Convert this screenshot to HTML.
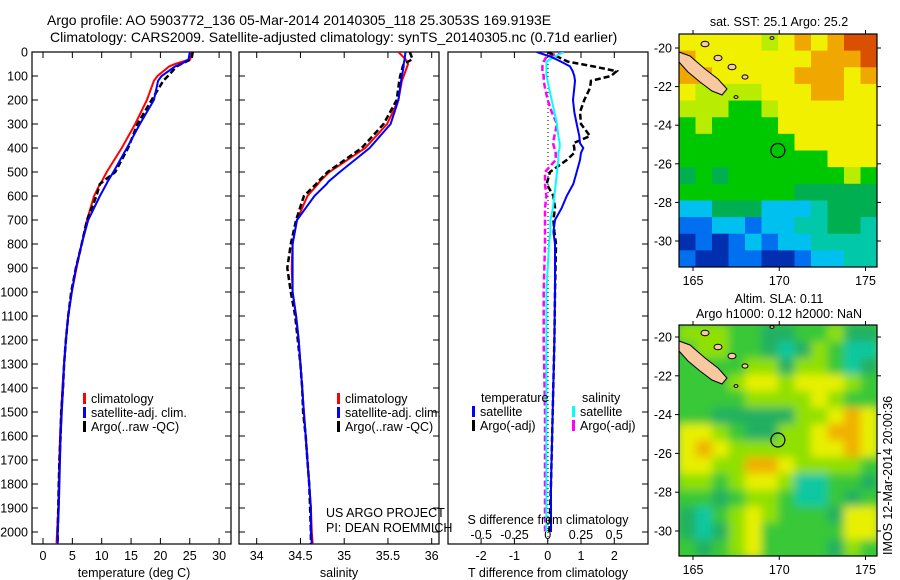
<!DOCTYPE html>
<html><head><meta charset="utf-8">
<style>
html,body{margin:0;padding:0;background:#fff;}
svg{display:block;font-family:"Liberation Sans",sans-serif;}
text{font-size:12.5px;fill:#000;}
</style></head>
<body>
<svg id="fig" width="900" height="580" viewBox="0 0 900 580">
<defs>
<clipPath id="c1"><rect x="32" y="52" width="199" height="492"/></clipPath>
<clipPath id="c2"><rect x="239" y="52" width="200" height="492"/></clipPath>
<clipPath id="c3"><rect x="448" y="52" width="200" height="492"/></clipPath>
<clipPath id="cm1"><rect x="679" y="34" width="198" height="233"/></clipPath>
<clipPath id="cm2"><rect x="679" y="325" width="198" height="231"/></clipPath>
<filter id="bl" x="-5%" y="-5%" width="110%" height="110%"><feGaussianBlur stdDeviation="4.5"/></filter>
</defs>
<text x="47" y="25" style="font-size:14px">Argo profile: AO 5903772_136 05-Mar-2014 20140305_118 25.3053S 169.9193E</text>
<text x="50" y="42" style="font-size:14px">Climatology: CARS2009. Satellite-adjusted climatology: synTS_20140305.nc (0.71d earlier)</text>
<g id="g1"></g>
<g id="g2"></g>
<g id="g3"></g>
<g id="maps"></g>
<text transform="translate(892,555) rotate(-90)" style="font-size:12.5px">IMOS 12-Mar-2014 20:00:36</text>
</svg>
<script>
// ---- data ----
const depthT = [0,30,50,60,100,120,200,300,400,500,540,550,600,700,800,900,1000,1100,1200,1300,1400,1500,1600,1700,1800,1900,2000,2050];
const tempClim = [25.3,25.1,22.5,21.5,19.5,18.9,17.7,15.7,13.4,10.85,10.0,9.7,8.7,7.5,6.6,5.7,4.9,4.3,3.9,3.6,3.3,3.1,2.9,2.8,2.7,2.6,2.4,2.3];
const tempSat  = [25.0,24.8,23.6,22.5,20.2,19.6,18.9,16.5,14.3,12.0,11.0,10.8,9.7,7.7,6.6,5.6,4.9,4.3,3.9,3.6,3.4,3.2,3.0,2.9,2.8,2.7,2.5,2.5];
const tempArgo = [25.5,25.3,23.5,22.8,21.3,20.5,18.5,16.1,14.5,12.3,10.2,9.7,9.1,7.5,6.6,5.6,4.8,4.3,3.9,3.6,3.4,3.1,3.0,2.8,2.7,2.6,2.5,2.5];
const salClim = [35.62,35.70,35.73,35.72,35.68,35.66,35.62,35.49,35.24,34.83,34.72,34.70,34.58,34.46,34.41,34.40,34.41,34.45,34.48,34.50,34.52,34.54,34.56,34.58,34.60,34.62,34.63,34.64];
const salSat  = [35.70,35.69,35.68,35.68,35.66,35.65,35.62,35.53,35.29,34.95,34.82,34.80,34.66,34.46,34.41,34.41,34.41,34.45,34.48,34.50,34.52,34.54,34.56,34.58,34.60,34.62,34.62,34.63];
const salArgo = [35.75,35.78,35.68,35.67,35.64,35.63,35.60,35.45,35.20,34.81,34.70,34.68,34.54,34.45,34.39,34.35,34.39,34.44,34.47,34.50,34.52,34.53,34.56,34.58,34.60,34.61,34.62,34.62];
const depthD = [0,20,40,60,80,100,120,150,200,250,300,350,380,400,420,450,500,550,600,650,700,750,800,1000,1200,1500,1800,2000];
const tDiffSat  = [-0.33,0.1,0.4,0.67,0.75,0.8,0.82,0.8,0.76,0.8,0.87,0.95,0.97,1.07,1.0,0.97,0.87,0.77,0.57,0.42,0.22,0.17,0.22,0.22,0.2,0.15,0.1,0.1];
const tDiffArgo = [0.0,0.3,0.6,1.37,2.07,1.9,1.3,1.27,1.1,0.97,1.0,1.27,0.77,0.8,0.8,0.57,0.07,-0.03,0.17,0.22,0.17,0.2,0.25,0.22,0.2,0.15,0.1,0.05];
const sDiffSat  = [0.12,0.05,-0.01,-0.01,-0.01,-0.01,0.0,0.01,0.03,0.05,0.07,0.08,0.09,0.09,0.08,0.08,0.07,0.06,0.05,0.04,0.02,0.02,0.01,-0.01,-0.01,-0.01,-0.01,-0.01];
const sDiffArgo = [0.12,-0.01,-0.03,-0.04,-0.04,-0.03,-0.03,-0.02,0.0,0.03,0.07,0.05,0.04,0.05,0.06,0.06,-0.02,-0.02,-0.01,-0.02,-0.02,-0.02,-0.02,-0.03,-0.03,-0.02,-0.02,-0.02];
const depthTicks = [0,100,200,300,400,500,600,700,800,900,1000,1100,1200,1300,1400,1500,1600,1700,1800,1900,2000];
const tempTicks = [0,5,10,15,20,25,30];
const salTicks = [34,34.5,35,35.5,36];
const salTickLabels = ["34","34.5","35","35.5","36"];
const tdTicks = [-2,-1,0,1,2];
const sdTicks = [-0.5,-0.25,0,0.25,0.5];
const sdTickLabels = ["-0.5","-0.25","0","0.25","0.5"];
const lonTicks = [165,170,175];
const latTicks = [-20,-22,-24,-26,-28,-30];

// ---- scales ----
const yD = d => 52 + d*0.24;
const xT = t => 43 + t*5.87;
const xS = s => 256.7 + (s-34)*87.5;
const xTd = t => 547.7 + t*33.3;
const xSd = s => 547.7 + s*133;
const xLon = l => 693 + (l-165)*17.25;
const yLat1 = a => 48 + (-20-a)*19.3;
const yLat2 = a => 337 + (-20-a)*19.4;

const NS="http://www.w3.org/2000/svg";
function mk(tag, attrs, parent){const e=document.createElementNS(NS,tag);for(const k in attrs)e.setAttribute(k,attrs[k]);parent.appendChild(e);return e;}
function txt(s,x,y,anchor,parent){const t=mk('text',{x:x,y:y,'text-anchor':anchor||'start'},parent);t.textContent=s;return t;}
function line(xs,ds,fx,color,w,dash,parent,clip){
  const pts=xs.map((v,i)=>fx(v).toFixed(1)+','+yD(ds[i]).toFixed(1)).join(' ');
  const p=mk('polyline',{points:pts,fill:'none',stroke:color,'stroke-width':w,'clip-path':'url(#'+clip+')'},parent);
  if(dash)p.setAttribute('stroke-dasharray',dash);
  return p;
}
function frame(x0,w,parent){mk('rect',{x:x0,y:52,width:w,height:492,fill:'none',stroke:'#000','stroke-width':1.2},parent);}
function dticks(x0,w,parent,labels){
  depthTicks.forEach(d=>{const y=yD(d);
    mk('line',{x1:x0,y1:y,x2:x0+6,y2:y,stroke:'#000'},parent);
    mk('line',{x1:x0+w-6,y1:y,x2:x0+w,y2:y,stroke:'#000'},parent);
    if(labels){const t=txt(String(d),28,y+4.5,'end',parent);
      
      }
  });
}
function xticks(vals,labs,fx,parent,ylab){
  vals.forEach((v,i)=>{const x=fx(v);
    mk('line',{x1:x,y1:52,x2:x,y2:58,stroke:'#000'},parent);
    mk('line',{x1:x,y1:538,x2:x,y2:544,stroke:'#000'},parent);
    if(ylab){const t=txt(labs[i],x,ylab,'middle',parent);
      
      }
  });
}
function legendItem(color,label,x,y,parent){
  mk('rect',{x:x,y:y-10,width:3,height:11,fill:color},parent);
  const t=txt(label,x+8,y,'start',parent);
  
  
}

// ---- panel 1 ----
const g1=document.getElementById('g1');
frame(32,199,g1); dticks(32,199,g1,true);
xticks(tempTicks,tempTicks.map(String),xT,g1,560);
let l;
l=line(tempClim,depthT,xT,'#ff0000',2,null,g1,'c1');


l=line(tempArgo,depthT,xT,'#000',2.5,'6,3',g1,'c1');


l=line(tempSat,depthT,xT,'#0000ff',2,null,g1,'c1');


legendItem('#ff0000','climatology',83,403,g1);
legendItem('#0000ff','satellite-adj. clim.',83,417,g1);
legendItem('#000','Argo(..raw -QC)',83,431,g1);
let xl=txt('temperature (deg C)',134,577,'middle',g1);



// ---- panel 2 ----
const g2=document.getElementById('g2');
frame(239,200,g2); dticks(239,200,g2,false);
xticks(salTicks,salTickLabels,xS,g2,560);
l=line(salClim,depthT,xS,'#ff0000',2,null,g2,'c2');


l=line(salArgo,depthT,xS,'#000',2.5,'6,3',g2,'c2');


l=line(salSat,depthT,xS,'#0000ff',2,null,g2,'c2');


legendItem('#ff0000','climatology',337,403,g2);
legendItem('#0000ff','satellite-adj. clim.',337,417,g2);
legendItem('#000','Argo(..raw -QC)',337,431,g2);
let cr=txt('US ARGO PROJECT',326,517,'start',g2);


cr=txt('PI: DEAN ROEMMICH',326,532,'start',g2);


xl=txt('salinity',339,577,'middle',g2);



// ---- panel 3 ----
const g3=document.getElementById('g3');
frame(448,200,g3);
depthTicks.forEach(d=>{const y=yD(d);mk('line',{x1:648-6,y1:y,x2:648,y2:y,stroke:'#000'},g3);});
tdTicks.forEach(v=>{const x=xTd(v);
  mk('line',{x1:x,y1:52,x2:x,y2:58,stroke:'#000'},g3);
  mk('line',{x1:x,y1:538,x2:x,y2:544,stroke:'#000'},g3);
  const t=txt(String(v),x,560,'middle',g3);
  
  });
sdTicks.forEach((v,i)=>{
  const t=txt(sdTickLabels[i],xSd(v),539,'middle',g3);
  
  });
mk('line',{x1:548,y1:52,x2:548,y2:544,stroke:'#000','stroke-width':1,'stroke-dasharray':'1,3'},g3);
l=line(sDiffArgo,depthD,xSd,'#ff00ff',2.5,'6,3',g3,'c3');


l=line(tDiffArgo,depthD,xTd,'#000',2.5,'6,3',g3,'c3');


l=line(sDiffSat,depthD,xSd,'#00ffff',2,null,g3,'c3');


l=line(tDiffSat,depthD,xTd,'#0000ff',2,null,g3,'c3');


let lt=txt('temperature',481,402,'start',g3);


lt=txt('salinity',582,402,'start',g3);


legendItem('#0000ff','satellite',472,416,g3);
legendItem('#000','Argo(-adj)',472,430,g3);
legendItem('#00ffff','satellite',572,416,g3);
legendItem('#ff00ff','Argo(-adj)',572,430,g3);
xl=txt('S difference from climatology',548,524,'middle',g3);


xl=txt('T difference from climatology',548,577,'middle',g3);



// ---- maps ----
const maps=document.getElementById('maps');
const pal1={Y:'#f0f000',O:'#f0a800',R:'#d85000',L:'#b8ec00',G:'#00c800',D:'#00b050',T:'#00c8a8',C:'#00c0f0',B:'#0070f0',N:'#0030b0'};
const grid1=["YYYYYLYOYORR","OYYYYYYYOOOR","OOYYYYYOOOYO","YLLLLYYYOOYY","LLLGGLYYYYYY","GLGGGGYYYYYY","GGGGGGGYYYYY","GGGGGGGGGYYY","DGDGGGGGGGLG","GGGGGGGDDDDD","CCDDDCCCTDDD","BBCCBCCTTDDT","NBNBCBCCTTTT","BNNBBNNBCCTT"];
const pal2={L:'#90e000',G:'#38c838',D:'#20b060',T:'#10c8a0',Y:'#e8f000',O:'#f0b000'};
const grid2=["LLLGGDDGGLDD","GLLGGDTDLGTT","GGGGLLDLLGTD","GGGLYYLYYYLG","GGGGLLLLYLGG","GGDDDDDLLYOY","YYLGDDLLYOOY","YOYLLLLLYYOY","YYLLOOYLLLLG","LLGLYYLTTGGD","GGDGLLGTTGDG","DTGLYLGGGDYY","DTDLYGGGGGYY","GDGLYGGGGDLG"];
function drawMap(grid,pal,y0,h,clip,blur){
  const g=mk('g',{'clip-path':'url(#'+clip+')'},maps);
  const inner=mk('g',blur?{filter:'url(#bl)'}:{},g);
  const cw=198/12, ch=h/grid.length;
  mk('rect',{x:660,y:y0-20,width:240,height:h+40,fill:pal.G},inner);
  grid.forEach((row,r)=>{[...row].forEach((c,k)=>{
    mk('rect',{x:679+k*cw,y:y0+r*ch,width:cw+1,height:ch+1,fill:pal[c]},inner);});});
  return g;
}
function mapExtras(y0,yLat,h,title1,title2){
  const g=mk('g',{},maps);
  const off=yLat(-20)-48;
  mk('polygon',{points:[[679,52],[690,56],[705,69],[718,79],[727,89],[722,95],[712,91],[700,82],[688,72],[679,62]].map(p=>p[0]+','+(p[1]+off)).join(' '),fill:'#f8c8a0',stroke:'#000','stroke-width':1},g);
  [[705,44,4],[718,58,4],[732,67,4],[745,77,3],[772,38,2],[736,97,2]].forEach(p=>{
    mk('ellipse',{cx:p[0],cy:p[1]+off,rx:p[2],ry:p[2]*0.7,fill:'#f8c8a0',stroke:'#000','stroke-width':1},g);});
  const c=mk('circle',{cx:xLon(169.92),cy:yLat(-25.31),r:7,fill:'none',stroke:'#000','stroke-width':1.2},g);
  
  
  mk('rect',{x:679,y:y0,width:198,height:h,fill:'none',stroke:'#000','stroke-width':1.2},g);
  lonTicks.forEach(v=>{const x=xLon(v);
    mk('line',{x1:x,y1:y0-4,x2:x,y2:y0,stroke:'#000'},g);
    mk('line',{x1:x,y1:y0+h,x2:x,y2:y0+h+4,stroke:'#000'},g);
    const t=txt(String(v),x,y0+h+18,'middle',g);
    
    });
  latTicks.forEach(v=>{const y=yLat(v);
    mk('line',{x1:675,y1:y,x2:679,y2:y,stroke:'#000'},g);
    mk('line',{x1:877,y1:y,x2:881,y2:y,stroke:'#000'},g);
    const t=txt(String(v),672,y+4.5,'end',g);
    
    });
  const t1=txt(title1,779,title2?y0-22:y0-8,'middle',g);
  
  
  if(title2){const t2=txt(title2,779,y0-7,'middle',g);
    
    }
}
let m=drawMap(grid1,pal1,34,233,'cm1',false);


mapExtras(34,yLat1,233,'sat. SST: 25.1 Argo: 25.2',null);
m=drawMap(grid2,pal2,325,231,'cm2',true);


mapExtras(325,yLat2,231,'Altim. SLA: 0.11','Argo h1000: 0.12 h2000: NaN');
</script>
</body></html>
